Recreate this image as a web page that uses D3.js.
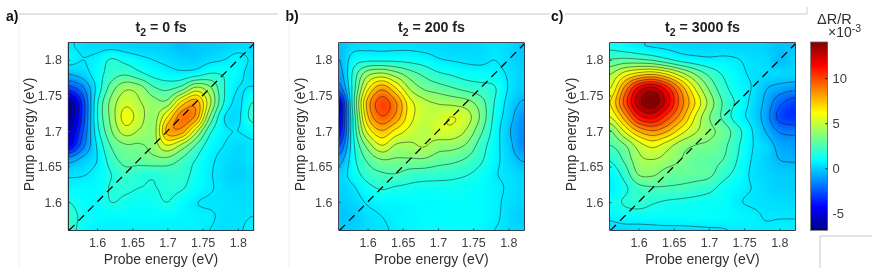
<!DOCTYPE html>
<html><head><meta charset="utf-8">
<script src="https://cdn.jsdelivr.net/npm/d3@7"></script>
<style>
html,body{margin:0;padding:0;background:#fff}
#wrap{position:relative;width:872px;height:268px;overflow:hidden;filter:blur(0.35px)}
canvas{position:absolute;z-index:1}
svg{position:absolute;left:0;top:0;z-index:2}
text{font-family:"Liberation Sans",Arial,sans-serif}
</style></head><body><div id="wrap"></div>
<script>
const panelLetters=["a)","b)","c)"];
const panelTimes=["0 fs","200 fs","3000 fs"];
const probeEnergy=[1.56,1.58,1.60,1.62,1.64,1.66,1.68,1.70,1.72,1.74,1.76,1.78,1.80,1.82];
const pumpEnergy=[1.82,1.80,1.78,1.76,1.74,1.72,1.70,1.68,1.66,1.64,1.62,1.60,1.58,1.56];
const tickValues=[1.6,1.65,1.7,1.75,1.8];
const tickLabels=["1.6","1.65","1.7","1.75","1.8"];
const colorbarTicks=[-5,0,5,10];
const panelA=[
[0.6,0.3,0.2,0.2,0.1,0.0,0,-0.1,-0.4,-0.2,-0.1,0,0.2,0.2],
[0.8,0.5,0.8,1.6,1.2,0.8,0.5,0.3,0.1,0,0.3,0.5,0.8,0.4],
[-0.5,0,1.0,2.0,2.4,1.8,1.2,0.9,0.8,1.1,1.6,1.4,0.8,0.2],
[-3,-1.7,0.8,3,4.3,4,2.7,2.3,3,4.8,3.8,1.6,0.5,0.6],
[-6.5,-3,1.3,3.8,5.2,4.6,3.9,3.9,6.8,8,4.8,1.5,0.3,1.5],
[-6.5,-3,1.4,3.8,5.9,5,4,6.5,9,8.2,3.5,0.6,0.3,1.8],
[-5.5,-2.5,1.1,3.4,5,4.4,4,7.8,8,5,1.8,0.7,0.5,0.8],
[-4.5,-1.8,0.6,2.6,3.4,3.4,3.9,5.5,4.3,2.5,1,0.5,0.2,0.4],
[-1,-0.2,0.5,2,2.9,3,3.2,3.2,2.4,1.5,0.7,0.3,0.1,0.4],
[0.3,0.4,0.8,1.5,2.1,1.8,1.7,1.9,1.9,1.2,0.6,0.2,0,0.2],
[0.8,0.9,0.9,1.6,1.7,1.5,1.45,1.7,1.6,1,0.6,0.3,0.2,0.3],
[1.5,1,0.9,1.5,1.3,1.1,1.2,1.5,1.0,0.55,0.4,0.4,0.3,0.3],
[2,1.2,0.9,0.9,0.9,0.9,0.9,0.9,0.8,0.7,0.6,0.35,0.35,0.5],
[2,1,0.7,0.7,0.7,0.7,0.7,0.7,0.7,0.7,0.5,0.3,0.4,0.7]];
const panelB=[
[-0.3,0.2,0.3,0.3,0.3,0.3,0.2,0.2,0.1,0.1,0.2,0.4,0.2,-0.2],
[-0.5,1.0,1.3,1.3,1.3,1.2,1.0,0.6,0.45,0.35,0.3,0.5,0.2,-0.1],
[-1,1.8,4.2,4.8,4,3,2.3,1.7,1.4,1.1,1,0.9,0.4,0],
[-2,2,6.2,8.2,6.6,4.4,3.4,3,2.6,2.2,1.9,1.6,0.45,-0.1],
[-4.5,2.2,7.8,10,8.6,5.9,4.8,4.4,4.2,3.9,3,1.5,0.2,-0.6],
[-4.5,1.8,7.3,9.4,8.2,5.9,5,5.1,5.5,5,3.4,1.3,0,-1.2],
[-4,1.6,5.8,7.4,6.2,5.2,4.7,5.2,5.2,4.4,2.8,1.1,-0.3,-1.4],
[-2.5,1.3,3.9,5.5,4.4,4.3,4.6,4,3.9,3.4,2.1,0.9,-0.1,-1.4],
[-1,1.2,2.7,3.5,3.4,3.4,3.4,3,2.8,2.4,1.7,0.8,0.1,-0.6],
[0,1,2,2.4,2.5,2.1,2,1.9,1.8,1.6,1.2,0.6,0.3,0],
[0,0.4,1.2,1.6,1.4,1.3,1.2,1.2,1.2,1.1,0.9,0.7,0.4,0.1],
[-0.1,0.1,0.6,0.8,0.8,0.9,0.9,0.9,1.0,1.0,0.9,0.7,0.3,0.1],
[-0.2,-0.1,0.3,0.5,0.7,0.8,0.9,0.9,1,1,0.9,0.7,0.2,-0.1],
[0,0,0.3,0.4,0.6,0.8,0.9,0.9,0.9,0.9,0.8,0.5,0.3,0.1]];
const panelC=[
[1.2,0.9,0.6,0.4,0.3,0.2,0.1,0.1,0.1,0.1,0.1,0,-0.3,-0.2],
[2.6,2.8,2.7,2.4,1.8,1.2,0.9,0.7,0.7,0.55,0.3,0.2,-0.4,0],
[4.5,6,7,7.4,6.5,5,3.5,2.3,1.4,0.8,0.4,0.2,0.1,0.1],
[5.5,8.7,11.8,12.8,11,8.2,5.5,3.4,1.9,1.0,0.5,-0.4,-0.9,-1.2],
[6.5,9.8,13,14,12,9,6.5,4.2,2.4,1.3,0.3,-0.7,-2.2,-3],
[5.5,8,11,11.7,10,8,5.5,3.6,2.3,1.0,0.2,-0.9,-2.8,-3.3],
[3.4,5.6,7.6,8.4,7.6,6,4.7,3.8,3.1,1.9,0.6,-0.5,-1.6,-1.8],
[2.5,3.4,5,5.8,5,4,3.5,3.3,2.8,1.7,0.6,0.1,-0.8,-1],
[1.6,2.7,4.2,4.5,4.1,3.5,3,2.8,2.5,1.5,0.5,0,-0.5,-0.6],
[0.9,1.9,3.6,3.7,3.1,3,2.9,2.75,1.9,1.2,0.4,0.1,-0.1,-0.1],
[0.7,1.3,2.2,2.4,2.4,2.3,2.1,1.8,1.2,0.8,0.5,0.2,0,0],
[1.1,1.6,1.9,1.6,1.4,1.3,1.2,1.1,1,0.6,0.4,0.3,0.25,0.2],
[0.7,1.0,1.0,1.0,1,1,1,1,0.9,0.8,0.7,0.45,0.45,0.45],
[0.1,0.15,0.2,0.25,0.3,0.3,0.35,0.4,0.45,0.6,0.6,0.6,0.7,0.7]];
const panels=[panelA,panelB,panelC];

const layout={left:[68,338.5,609.5],top:42.5,w:186,h:188,xDom:[1.5587,1.823],yDom:[1.56,1.8246]};
const cRange=[-6.9,14];
const levels=d3.range(-6.5,14,1);
const jet=t=>{const c=v=>Math.max(0,Math.min(1,v));
  const r=c(Math.min(4*t-1.5,-4*t+4.5)),g=c(Math.min(4*t-0.5,-4*t+3.5)),b=c(Math.min(4*t+0.5,-4*t+2.5));
  return [r*255,g*255,b*255];};
const color=d3.scaleLinear().domain(cRange).range([0,1]).clamp(true);
const wrap=d3.select("#wrap");
const svg=wrap.append("svg").attr("width",872).attr("height",268);

function cubic(p0,p1,p2,p3,t){return 0.5*((2*p1)+(-p0+p2)*t+(2*p0-5*p1+4*p2-p3)*t*t+(-p0+3*p1-3*p2+p3)*t*t*t);}
function sample(grid,fx,fy){
  const n=grid.length,m=grid[0].length;
  const ix=Math.floor(fx),iy=Math.floor(fy),tx=fx-ix,ty=fy-iy;
  const at=(r,c)=>grid[Math.max(0,Math.min(n-1,r))][Math.max(0,Math.min(m-1,c))];
  const col=[];
  for(let j=-1;j<=2;j++) col.push(cubic(at(iy+j,ix-1),at(iy+j,ix),at(iy+j,ix+1),at(iy+j,ix+2),tx));
  return cubic(col[0],col[1],col[2],col[3],ty);
}
const fracX=d3.scaleLinear().domain(d3.extent(probeEnergy)).range([0,probeEnergy.length-1]);
const fracY=d3.scaleLinear().domain([pumpEnergy[0],pumpEnergy[pumpEnergy.length-1]]).range([0,pumpEnergy.length-1]);

panels.forEach((grid,i)=>{
  const L=layout.left[i],T=layout.top,W=layout.w,H=layout.h;
  const x=d3.scaleLinear().domain(layout.xDom).range([L,L+W]);
  const y=d3.scaleLinear().domain(layout.yDom).range([T+H,T]);
  const field=new Float64Array(W*H);
  for(let r=0;r<H;r++)for(let c=0;c<W;c++){
    field[r*W+c]=sample(grid,Math.min(13,Math.max(0,fracX(x.invert(L+c+0.5)))),Math.min(13,Math.max(0,fracY(y.invert(T+r+0.5)))));
  }
  const cv=wrap.append("canvas").attr("width",W).attr("height",H).style("left",L+"px").style("top",T+"px").node();
  const ctx=cv.getContext("2d"),img=ctx.createImageData(W,H);
  field.forEach((v,k)=>{const [a,b,d]=jet(color(v));img.data[k*4]=a;img.data[k*4+1]=b;img.data[k*4+2]=d;img.data[k*4+3]=255;});
  ctx.putImageData(img,0,0);
  const g=svg.append("g");
  const proj=d3.geoTransform({point(px,py){this.stream.point(L+px,T+py);}});
  const path=d3.geoPath(proj);
  const cp=`clip${i}`;
  svg.append("clipPath").attr("id",cp).append("rect").attr("x",L).attr("y",T).attr("width",W).attr("height",H);
  g.append("g").attr("clip-path",`url(#${cp})`).selectAll("path").data(d3.contours().size([W,H]).thresholds(levels)(Array.from(field)))
    .join("path").attr("d",path).attr("fill","none").attr("stroke","#111").attr("stroke-opacity",0.6).attr("stroke-width",0.8);
  g.append("line").attr("clip-path",`url(#${cp})`).attr("x1",x(1.56)).attr("y1",y(1.56)).attr("x2",x(1.823)).attr("y2",y(1.823))
    .attr("stroke","#000").attr("stroke-width",1.25).attr("stroke-dasharray","8 5.5");
  const ax=d3.axisBottom(x).tickValues(tickValues).tickFormat((d,k)=>tickLabels[k]).tickSize(-2).tickPadding(8);
  const ay=d3.axisLeft(y).tickValues(tickValues).tickFormat((d,k)=>tickLabels[k]).tickSize(-2).tickPadding(6);
  [[ax,`translate(0,${T+H})`],[ay,`translate(${L},0)`]].forEach(([a,tr])=>{
    const s=g.append("g").attr("transform",tr).call(a);
    s.selectAll("text").attr("font-size",12.5).attr("fill","#404040");
    s.selectAll("line").attr("stroke","#444");
    s.select(".domain").attr("stroke","none");
  });
  g.append("rect").attr("x",L).attr("y",T).attr("width",W).attr("height",H).attr("fill","none").attr("stroke","#557").attr("stroke-opacity",0.6).attr("stroke-width",0.8);
  g.append("text").attr("x",L+W/2).attr("y",T+H+33).attr("text-anchor","middle").attr("font-size",14).attr("fill","#303030").text("Probe energy (eV)");
  g.append("text").attr("transform",`translate(${L-34},${T+H/2-2}) rotate(-90)`).attr("text-anchor","middle").attr("font-size",14).attr("fill","#303030").text("Pump energy (eV)");
  const title=g.append("text").attr("x",L+W/2).attr("y",32).attr("text-anchor","middle").attr("font-size",14.2).attr("font-weight","bold").attr("fill","#222");
  title.append("tspan").text("t");
  title.append("tspan").attr("dy",3.5).attr("font-size",10.5).text("2");
  title.append("tspan").attr("dy",-3.5).text(" = "+panelTimes[i]);
  g.append("text").attr("x",[6,285.5,551][i]).attr("y",21).attr("font-size",14).attr("font-weight","bold").attr("fill","#111").text(panelLetters[i]);
});

// frame remnants of the source figure
const rules=[[19,14,278,14],[300,14,550,14],[565,14,807,14],[807,7,807,14],[820,236,872,236],[820,236,820,268]];
svg.selectAll("line.rule").data(rules).join("line").attr("class","rule")
  .attr("x1",d=>d[0]).attr("y1",d=>d[1]).attr("x2",d=>d[2]).attr("y2",d=>d[3]).attr("stroke","#c4c4c4").attr("stroke-width",0.9);
const faintRules=[[19,15,19,268],[289,15,289,268]];
svg.selectAll("line.faint").data(faintRules).join("line").attr("class","faint")
  .attr("x1",d=>d[0]).attr("y1",d=>d[1]).attr("x2",d=>d[2]).attr("y2",d=>d[3]).attr("stroke","#f0f0f0").attr("stroke-width",1);

// colorbar
const cbX=810.5,cbW=17,cbT=42,cbH=188.5;
const cy=d3.scaleLinear().domain(cRange).range([cbT+cbH,cbT]);
const cv=wrap.append("canvas").attr("width",cbW).attr("height",cbH).style("left",cbX+"px").style("top",cbT+"px").node();
const ctx=cv.getContext("2d");
d3.range(0,Math.ceil(cbH)).forEach(r=>{const [a,b,d]=jet(color(cy.invert(cbT+r+0.5)));ctx.fillStyle=`rgb(${a},${b},${d})`;ctx.fillRect(0,r,cbW,1);});
const cax=svg.append("g").attr("transform",`translate(${cbX+cbW},0)`).call(d3.axisRight(cy).tickValues(colorbarTicks).tickSize(-2).tickPadding(5).tickFormat(d=>d));
cax.selectAll("text").attr("font-size",13).attr("fill","#404040");
cax.select(".domain").attr("stroke","none");
svg.append("rect").attr("x",cbX).attr("y",cbT).attr("width",cbW).attr("height",cbH).attr("fill","none").attr("stroke","#666").attr("stroke-width",0.8);
svg.append("text").attr("x",817).attr("y",24).attr("font-size",14.5).attr("fill","#303030").text("ΔR/R");
const exp=svg.append("text").attr("x",828).attr("y",37).attr("font-size",14).attr("fill","#303030");
exp.append("tspan").text("×10");
exp.append("tspan").attr("dy",-5).attr("font-size",10.5).text("-3");
</script></body></html>
